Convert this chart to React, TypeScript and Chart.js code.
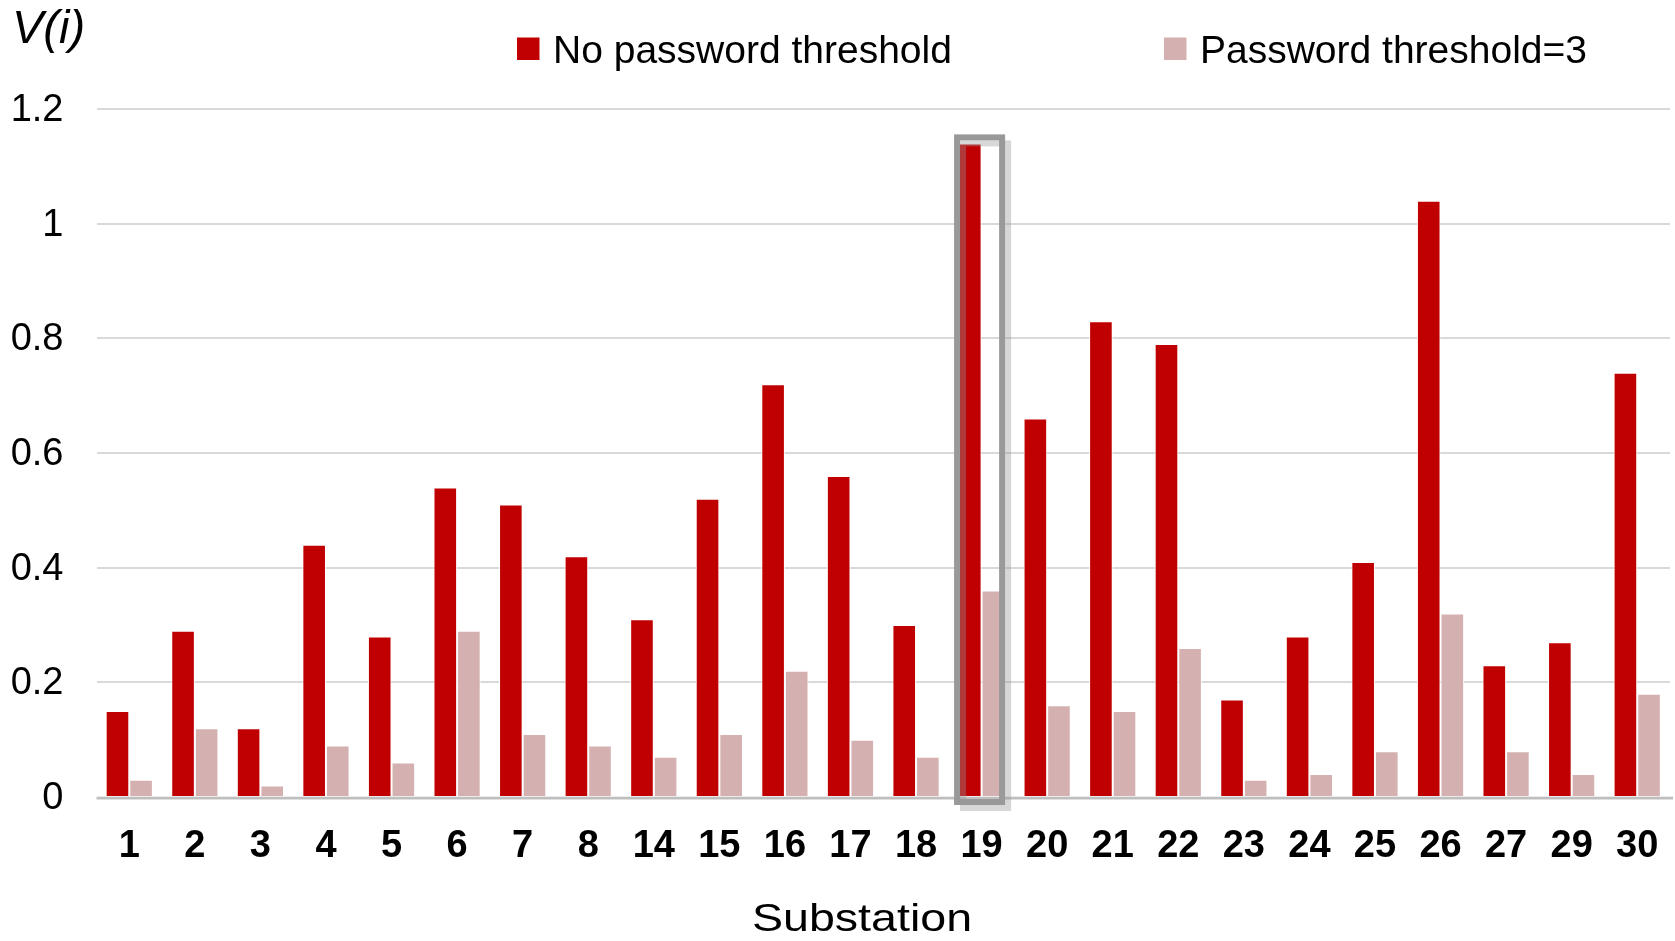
import React, { useEffect, useRef } from 'react';
import { Chart, registerables } from 'chart.js';

Chart.register(...registerables);

const substations = ['1', '2', '3', '4', '5', '6', '7', '8', '14', '15', '16', '17', '18', '19', '20', '21', '22', '23', '24', '25', '26', '27', '29', '30'];
const noThreshold = [0.15, 0.29, 0.12, 0.44, 0.28, 0.54, 0.51, 0.42, 0.31, 0.52, 0.72, 0.56, 0.30, 1.14, 0.66, 0.83, 0.79, 0.17, 0.28, 0.41, 1.04, 0.23, 0.27, 0.74];
const threshold3 = [0.03, 0.12, 0.02, 0.09, 0.06, 0.29, 0.11, 0.09, 0.07, 0.11, 0.22, 0.10, 0.07, 0.36, 0.16, 0.15, 0.26, 0.03, 0.04, 0.08, 0.32, 0.08, 0.04, 0.18];
const seriesLabels = ['No password threshold', 'Password threshold=3'];
const seriesColors = ['#C00000', '#D5B0B0'];
const highlighted = '19';
const yAxisLabel = 'V(i)';
const xAxisLabel = 'Substation';
const yMin = 0;
const yMax = 1.2;
const yStep = 0.2;

const FONT = "'Liberation Sans', Arial, Helvetica, sans-serif";

const overlayPlugin = {
  id: 'overlay',
  afterDatasetsDraw(chart: any) {
    const { ctx, chartArea, scales } = chart;
    const x = scales.x;
    const y = scales.y;
    const base = y.getPixelForValue(0);
    ctx.save();
    // baseline
    ctx.fillStyle = '#BFBFBF';
    ctx.fillRect(chartArea.left, base - 0.3, chartArea.right + 3 - chartArea.left, 2.8);
    // highlight box around the selected substation
    const i = substations.indexOf(highlighted);
    const c = x.getPixelForValue(i);
    const w = (chartArea.right - chartArea.left) / substations.length;
    const left = c - 0.374 * w;
    const right = c + 0.313 * w;
    const top = y.getPixelForValue(noThreshold[i]) - 6;
    const bottom = base + 5;
    ctx.lineWidth = 6;
    ctx.strokeStyle = 'rgba(150,150,150,0.38)';
    ctx.strokeRect(left + 6, top + 6, right - left, bottom - top);
    ctx.strokeStyle = '#999999';
    ctx.strokeRect(left, top, right - left, bottom - top);
    ctx.restore();
  },
  afterDraw(chart: any) {
    const { ctx } = chart;
    ctx.save();
    // legend
    const legendX = [517, 1164];
    chart.data.datasets.forEach((ds: any, k: number) => {
      ctx.fillStyle = ds.backgroundColor;
      ctx.fillRect(legendX[k], 37.5, 22.5, 22.5);
      ctx.fillStyle = '#000';
      ctx.font = `39px ${FONT}`;
      ctx.textAlign = 'left';
      ctx.textBaseline = 'alphabetic';
      ctx.fillText(ds.label, legendX[k] + 36, 63);
    });
    // y axis label
    ctx.font = `italic 47px ${FONT}`;
    ctx.fillStyle = '#000';
    ctx.textAlign = 'left';
    ctx.textBaseline = 'alphabetic';
    ctx.fillText(yAxisLabel, 12, 43);
    // x axis title (wide rendering)
    ctx.translate(862, 931);
    ctx.scale(1.21, 1);
    ctx.font = `38.5px ${FONT}`;
    ctx.textAlign = 'center';
    ctx.fillText(xAxisLabel, 0, 0);
    ctx.restore();
  },
};

export default function App() {
  const canvasRef = useRef<HTMLCanvasElement | null>(null);

  useEffect(() => {
    const canvas = canvasRef.current;
    if (!canvas) return;
    const chart = new Chart(canvas, {
      type: 'bar',
      data: {
        labels: substations,
        datasets: [
          {
            label: seriesLabels[0],
            data: noThreshold,
            backgroundColor: seriesColors[0],
            borderColor: '#FFFFFF',
            borderWidth: 1,
            categoryPercentage: 0.72,
            barPercentage: 1.0,
          },
          {
            label: seriesLabels[1],
            data: threshold3,
            backgroundColor: seriesColors[1],
            borderColor: '#FFFFFF',
            borderWidth: 1,
            categoryPercentage: 0.72,
            barPercentage: 1.0,
          },
        ],
      },
      options: {
        responsive: false,
        animation: false,
        devicePixelRatio: 1,
        layout: { padding: { left: 0, right: 5, top: 109, bottom: 0 } },
        plugins: {
          legend: { display: false },
          title: { display: false },
          tooltip: { enabled: false },
        },
        scales: {
          x: {
            offset: true,
            grid: { display: false, drawTicks: false },
            border: { display: false },
            ticks: {
              autoSkip: false,
              maxRotation: 0,
              padding: 26.5,
              color: '#000',
              font: { family: FONT, size: 38, weight: 'bold' },
            },
            afterFit(scale: any) {
              scale.height = 144;
              scale.paddingLeft = 0;
              scale.paddingRight = 0;
            },
          },
          y: {
            min: yMin,
            max: yMax,
            grid: {
              drawTicks: false,
              color: (c: any) => (c.tick && c.tick.value === 0 ? 'rgba(0,0,0,0)' : '#D9D9D9'),
              lineWidth: 2,
            },
            border: { display: false },
            ticks: {
              stepSize: yStep,
              padding: 33,
              labelOffset: 1.5,
              color: '#000',
              font: { family: FONT, size: 38 },
              callback: (v: any) => String(parseFloat(Number(v).toFixed(1))),
            },
            afterFit(scale: any) {
              scale.width = 96.5;
            },
          },
        },
      },
      plugins: [overlayPlugin],
    });
    return () => chart.destroy();
  }, []);

  return (
    <div style={{ position: 'fixed', left: 0, top: 0, width: 1675, height: 941, background: '#fff' }}>
      <canvas ref={canvasRef} width={1675} height={941} style={{ width: 1675, height: 941, display: 'block' }} />
    </div>
  );
}
